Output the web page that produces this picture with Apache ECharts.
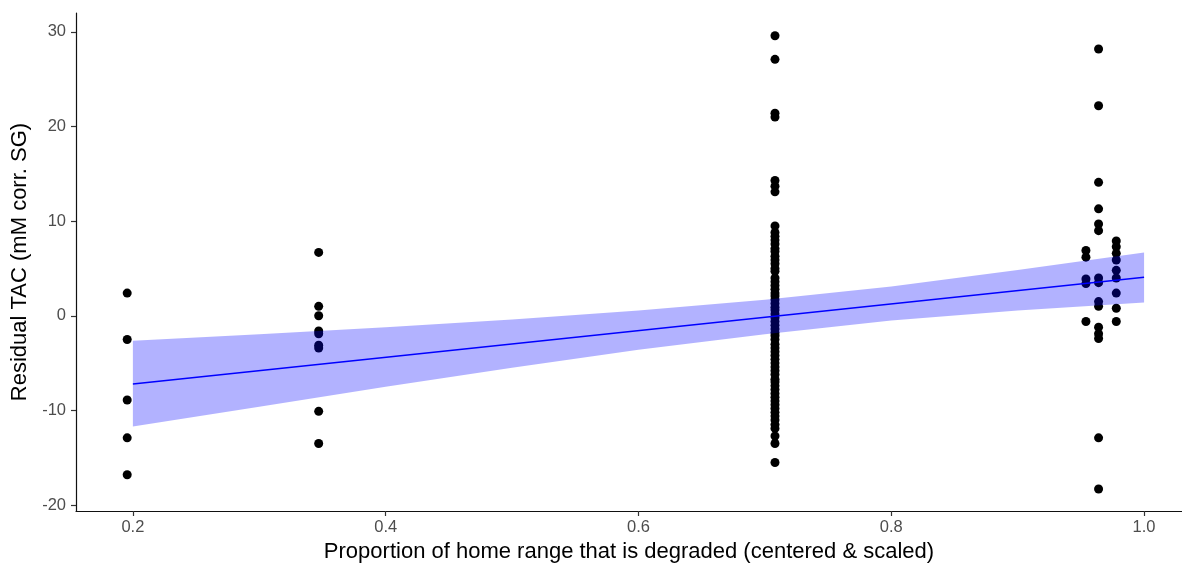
<!DOCTYPE html>
<html>
<head>
<meta charset="utf-8">
<script src="https://cdn.jsdelivr.net/npm/echarts@6/dist/echarts.min.js"></script>
<style>
html,body{margin:0;padding:0;background:#fff;}
#chart{width:1182px;height:563px;}
</style>
</head>
<body>
<div id="chart"></div>
<script>
// ---- Data ----
const xTicks = [0.2, 0.4, 0.6, 0.8, 1.0];
const yTicks = [-20, -10, 0, 10, 20, 30];

const groupX = [0.1955, 0.347, 0.708, 0.954, 0.964, 0.978];
const group1 = [2.4, -2.5, -8.9, -12.9, -16.8];
const group2 = [6.7, 1.0, 0.0, -1.6, -1.9, -3.1, -3.4, -10.1, -13.5];
const group3 = [29.6, 27.1, 21.4, 21.0, 14.3, 13.7, 13.1,
  9.5, 8.8, 8.4, 8.0, 7.6, 7.1, 6.8, 6.3, 5.9, 5.5, 5.0, 4.7, 4.0, 3.6, 3.2, 2.8, 2.4, 2.1,
  1.7, 1.3, 0.9, 0.6, 0.2, -0.2, -0.6, -1.0, -1.4, -1.8, -2.1, -2.5, -3.0, -3.4, -3.8,
  -4.2, -4.6, -5.0, -5.4, -5.8, -6.2, -6.7, -7.0, -7.4, -7.8, -8.2, -8.6, -9.0, -9.4,
  -9.8, -10.2, -10.6, -11.0, -11.5, -11.9, -12.7, -13.5, -15.5];
const group4 = [6.9, 6.2, 3.9, 3.4, -0.6];
const group5 = [28.2, 22.2, 14.1, 11.3, 9.7, 9.0, 4.0, 3.5, 1.5, 1.0, -1.2, -1.9, -2.4, -12.9, -18.3];
const group6 = [7.9, 7.3, 6.6, 5.9, 4.8, 4.0, 2.4, 0.8, -0.6];

const fitX = [0.2, 1.0];
const fitY = [-7.2, 4.08];

const ribbonX  = [0.2, 0.3, 0.4, 0.5, 0.6, 0.7, 0.8, 0.9, 1.0];
const ribbonLo = [-11.7, -9.6, -7.5, -5.5, -3.6, -1.95, -0.5, 0.55, 1.4];
const ribbonHi = [-2.65, -1.95, -1.2, -0.4, 0.55, 1.7, 3.1, 4.85, 6.7];

// ---- Build series data ----
const groups = [group1, group2, group3, group4, group5, group6];
const points = [];
groups.forEach((g, i) => g.forEach(v => points.push([groupX[i], v])));
const fitData = fitX.map((x, i) => [x, fitY[i]]);

const chart = echarts.init(document.getElementById('chart'), null, {renderer: 'canvas'});
const FONT = 'Liberation Sans, Arial, sans-serif';
const tickLabelStyle = {color: '#4D4D4D', fontSize: 16.5, fontFamily: FONT};

chart.setOption({
  animation: false,
  backgroundColor: '#ffffff',
  grid: {left: 76, right: 0, top: 13, bottom: 52, containLabel: false, outerBoundsMode: 'none'},
  xAxis: {
    type: 'value', min: 0.155, max: 1.030,
    name: 'Proportion of home range that is degraded (centered & scaled)',
    nameLocation: 'middle', nameGap: 30,
    nameTextStyle: {color: '#000', fontSize: 22, fontFamily: FONT},
    axisLine: {show: true, onZero: false, lineStyle: {color: '#111', width: 1.2}},
    axisTick: {show: true, inside: false, length: 5, lineStyle: {color: '#333', width: 1.2}, customValues: xTicks},
    axisLabel: Object.assign({margin: 8, customValues: xTicks, formatter: v => Number(v).toFixed(1)}, tickLabelStyle),
    splitLine: {show: false}
  },
  yAxis: {
    type: 'value', min: -20.63, max: 32.0,
    name: 'Residual TAC (mM corr. SG)',
    nameLocation: 'middle', nameGap: 42,
    nameTextStyle: {color: '#000', fontSize: 22, fontFamily: FONT},
    axisLine: {show: true, onZero: false, lineStyle: {color: '#111', width: 1.2}},
    axisTick: {show: true, inside: false, length: 5, lineStyle: {color: '#333', width: 1.2}, customValues: yTicks},
    axisLabel: Object.assign({margin: 10, customValues: yTicks, formatter: v => String(Math.round(v))}, tickLabelStyle),
    splitLine: {show: false}
  },
  series: [
    {
      type: 'scatter', z: 1, data: points, symbol: 'circle', symbolSize: 9,
      itemStyle: {color: '#000', opacity: 1}, silent: true
    },
    {
      type: 'custom', z: 3, silent: true, clip: false,
      data: [[0.6, 0]],
      renderItem: function (params, api) {
        const pts = [];
        for (let i = 0; i < ribbonX.length; i++) pts.push(api.coord([ribbonX[i], ribbonHi[i]]));
        for (let i = ribbonX.length - 1; i >= 0; i--) pts.push(api.coord([ribbonX[i], ribbonLo[i]]));
        return {type: 'polygon', shape: {points: pts}, style: {fill: 'rgba(0,0,255,0.3)'}};
      }
    },
    {
      type: 'line', z: 4, data: fitData, showSymbol: false, symbol: 'none', silent: true,
      lineStyle: {color: '#0000FF', width: 1.6}
    }
  ]
});
</script>
</body>
</html>
